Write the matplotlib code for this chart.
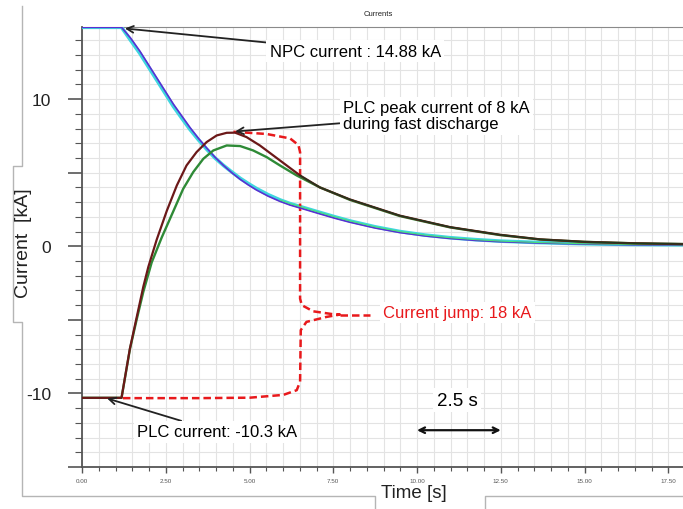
import matplotlib

matplotlib.use("Agg")
import matplotlib.pyplot as plt
from matplotlib.lines import Line2D
from matplotlib.ticker import FuncFormatter, MultipleLocator

plt.rcParams["font.family"] = ["Liberation Sans", "DejaVu Sans"]

# --- values (time in s, current in kA) ---
npc_t = [0.0, 1.18, 1.45, 1.73, 1.98, 2.23, 2.48, 2.73, 2.98, 3.22, 3.47, 3.72,
         3.97, 4.22, 4.47, 4.72, 4.97, 5.21, 5.56, 5.91, 6.21, 6.51, 7.10, 7.55,
         8.0, 8.75, 9.49, 10.24, 10.99, 11.74, 12.48, 13.67, 15.0, 16.5, 17.95]
npc_cyan = [14.88, 14.88, 14.0, 13.1, 12.2, 11.3, 10.4, 9.5, 8.7, 7.95, 7.25, 6.6,
            6.0, 5.5, 5.05, 4.62, 4.25, 3.92, 3.5, 3.15, 2.9, 2.7, 2.3, 2.0,
            1.72, 1.32, 1.0, 0.76, 0.58, 0.45, 0.35, 0.25, 0.17, 0.12, 0.1]
npc_violet = [14.88, 14.88, 14.15, 13.25, 12.35, 11.45, 10.55, 9.65, 8.85, 8.08, 7.35, 6.68,
              6.05, 5.5, 5.0, 4.55, 4.16, 3.82, 3.4, 3.05, 2.8, 2.6, 2.2, 1.9,
              1.63, 1.24, 0.93, 0.7, 0.53, 0.4, 0.31, 0.22, 0.15, 0.1, 0.08]

peak_t = [0.0, 1.18, 1.43, 1.63, 1.83, 1.98, 2.23, 2.53, 2.83, 3.12, 3.42, 3.72,
          4.02, 4.32, 4.57, 4.91, 5.31, 5.71, 6.11, 6.51, 7.10, 8.0, 9.49, 10.99,
          12.48, 13.67, 15.0, 16.5, 17.95]
peak_i = [-10.3, -10.3, -6.95, -4.85, -2.75, -1.4, 0.45, 2.4, 4.13, 5.49, 6.4, 7.08,
          7.53, 7.71, 7.72, 7.42, 6.85, 6.17, 5.49, 4.81, 4.0, 3.18, 2.08, 1.3,
          0.78, 0.47, 0.3, 0.2, 0.15]

plc_t = [0.0, 1.18, 1.43, 1.63, 1.83, 2.08, 2.38, 2.73, 3.02, 3.32, 3.62, 3.92,
         4.32, 4.72, 5.11, 5.51, 5.91, 6.41, 7.10, 8.0, 9.49, 10.99, 12.48, 13.67,
         15.0, 16.5, 17.95]
plc_i = [-10.3, -10.3, -7.0, -5.0, -3.1, -1.1, 0.6, 2.4, 3.9, 5.04, 5.94, 6.51,
         6.85, 6.81, 6.51, 6.06, 5.49, 4.81, 4.0, 3.15, 2.05, 1.28, 0.76, 0.46,
         0.3, 0.2, 0.15]

# red dashed brace marking the current jump
jump_t = [4.52, 5.51, 6.21, 6.46, 6.51, 6.51, 6.56, 6.9, 7.5, 7.7, 7.3, 6.7,
          6.53, 6.51, 6.41, 6.01, 5.01, 3.5, 1.18]
jump_i = [7.78, 7.63, 7.33, 6.88, 6.39, -3.56, -4.0, -4.42, -4.62, -4.64, -4.8,
          -5.14, -5.7, -9.2, -9.78, -10.1, -10.29, -10.32, -10.32]
jump_tip_t = [7.7, 8.6]
jump_tip_i = [-4.64, -4.64]

W, H = 683, 510


def fx(px):
    return px / W


def fy(py):
    return 1 - py / H


fig = plt.figure(figsize=(W / 100, H / 100), dpi=100)
fig.patch.set_facecolor("white")

# outer light frame with notches for the axis labels
frame = [(22, 7), (22, 167), (13, 167), (13, 323), (22, 323), (22, 497),
         (375, 497), (375, 512)]
frame2 = [(485, 512), (485, 497), (690, 497)]
for pts in (frame, frame2):
    fig.add_artist(Line2D([fx(p[0]) for p in pts], [fy(p[1]) for p in pts],
                          color="#b5b5b5", lw=1.0, transform=fig.transFigure))

ax = fig.add_axes([fx(82), fy(468), fx(683) - fx(82), fy(28) - fy(468)])
ax.set_xlim(0, 17.94)
ax.set_ylim(-15, 14.9)

ax.xaxis.set_major_locator(MultipleLocator(2.5))
ax.xaxis.set_minor_locator(MultipleLocator(0.5))
ax.yaxis.set_major_locator(MultipleLocator(5))
ax.yaxis.set_minor_locator(MultipleLocator(1))
ax.xaxis.set_major_formatter(FuncFormatter(lambda v, _: f"{v:.2f}"))
ax.yaxis.set_major_formatter(FuncFormatter(lambda v, _: f"{v:.0f}" if round(v) % 10 == 0 else ""))

ax.grid(which="both", color="#e3e3e3", lw=0.8)
ax.set_axisbelow(True)
ax.tick_params(axis="x", which="major", direction="out", length=4, width=1,
               colors="#555555", labelsize=4.5, pad=4)
ax.tick_params(axis="x", which="minor", direction="out", length=3, width=0.8, color="#555555")
ax.tick_params(axis="y", which="major", direction="out", length=10, width=1.2,
               colors="#555555", labelsize=12.5, pad=12)
ax.tick_params(axis="y", which="minor", direction="out", length=5, width=0.8, color="#555555")
for lab in ax.get_yticklabels():
    lab.set_color("#222222")
ax.spines["right"].set_visible(False)
ax.spines["top"].set_color("#8a8a8a")
ax.spines["top"].set_linewidth(0.8)
for s in ("left", "bottom"):
    ax.spines[s].set_color("#555555")
    ax.spines[s].set_linewidth(1.3)

# curves
ax.plot(npc_t, npc_cyan, color="#3fd6df", lw=2.6, zorder=3)
ax.plot(npc_t, npc_violet, color="#5a2fd2", lw=1.2, zorder=4)
ax.plot(npc_t[19:], npc_cyan[19:], color="#4be07a", lw=0.8, zorder=4)
ax.plot(jump_t, jump_i, color="#e8191c", lw=1.8, ls=(0, (3, 1.6)), zorder=3)
ax.plot(jump_tip_t, jump_tip_i, color="#e8191c", lw=1.8, ls=(0, (3, 1.6)), zorder=3)
ax.plot(plc_t, plc_i, color="#2e8a36", lw=1.7, zorder=5)
ax.plot(peak_t, peak_i, color="#6b1818", lw=1.6, zorder=5)
ax.plot(peak_t[19:], peak_i[19:], color="#1f3a1f", lw=1.0, zorder=6)

box = dict(boxstyle="square,pad=0.2", fc="white", ec="none")
arrow = dict(arrowstyle="->", color="#222222", lw=1.3, shrinkA=0, shrinkB=0)

ax.annotate("NPC current : 14.88 kA", xy=(1.28, 14.8), xytext=(5.6, 13.25),
            fontsize=12, va="center", ha="left", bbox=box, arrowprops=arrow, zorder=8)
ax.annotate("PLC peak current of 8 kA\nduring fast discharge", xy=(4.57, 7.8),
            xytext=(7.79, 8.87), fontsize=12, va="center", ha="left", linespacing=1.1,
            bbox=box, arrowprops=arrow, zorder=8)
ax.annotate("PLC current: -10.3 kA", xy=(0.75, -10.34), xytext=(1.64, -12.6),
            fontsize=12, va="center", ha="left", bbox=box, arrowprops=arrow, zorder=8)
ax.text(8.99, -4.5, "Current jump: 18 kA", color="#e8191c", fontsize=12,
        va="center", ha="left", bbox=box, zorder=8)
ax.text(11.2, -10.45, "2.5 s", fontsize=13.5, va="center", ha="center", bbox=box, zorder=8)
ax.annotate("", xy=(12.5, -12.5), xytext=(10.0, -12.5),
            arrowprops=dict(arrowstyle="<->", color="#111111", lw=1.6,
                            shrinkA=0, shrinkB=0), zorder=8)

fig.text(fx(378), fy(15), "Currents", fontsize=5.5, ha="center", va="center", color="#222222")
fig.text(fx(24), fy(243), "Current  [kA]", rotation=90, fontsize=14,
         ha="center", va="center", color="#222222")
fig.text(fx(414), fy(494), "Time [s]", fontsize=13.5, ha="center", va="center", color="#222222")

fig.savefig("out.png", dpi=100)
